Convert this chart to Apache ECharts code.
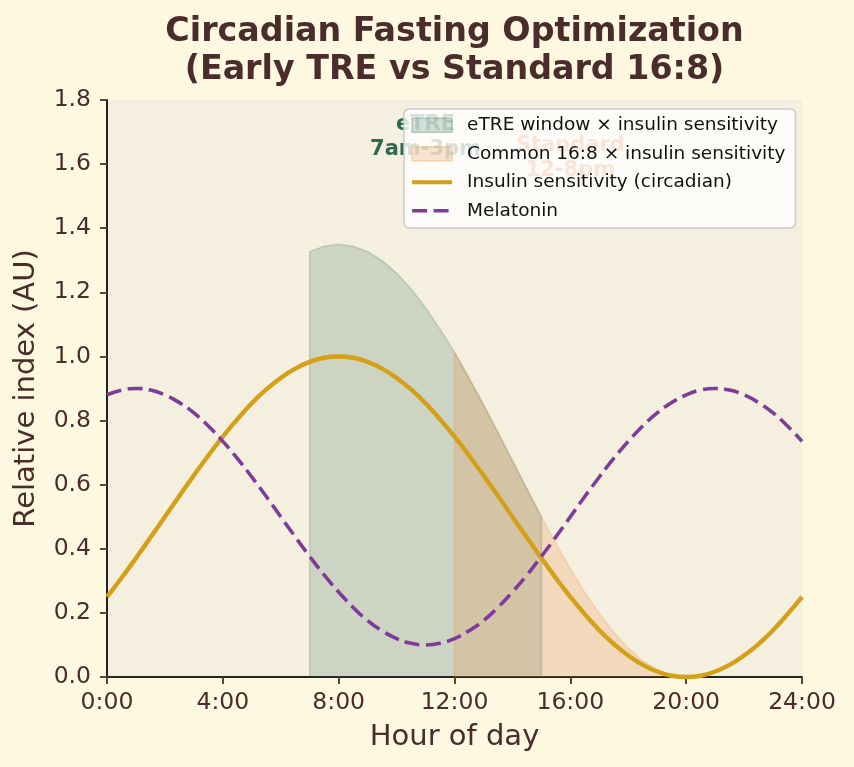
<!DOCTYPE html>
<html>
<head>
<meta charset="utf-8">
<script src="https://cdn.jsdelivr.net/npm/echarts@6/dist/echarts.min.js"></script>
<style>
html,body{margin:0;padding:0;background:#FEF8E1;}
#chart{width:854px;height:767px;}
</style>
</head>
<body>
<div id="chart"></div>
<script>
// ---- data ----
const hours = [0,0.5,1,1.5,2,2.5,3,3.5,4,4.5,5,5.5,6,6.5,7,7.5,8,8.5,9,9.5,10,10.5,11,11.5,12,12.5,13,13.5,14,14.5,15,15.5,16,16.5,17,17.5,18,18.5,19,19.5,20,20.5,21,21.5,22,22.5,23,23.5,24];
const insulin = [0.250,0.309,0.371,0.435,0.500,0.565,0.629,0.691,0.750,0.804,0.854,0.897,0.933,0.962,0.983,0.996,1.000,0.996,0.983,0.962,0.933,0.897,0.854,0.804,0.750,0.691,0.629,0.565,0.500,0.435,0.371,0.309,0.250,0.196,0.146,0.103,0.067,0.038,0.017,0.004,0.000,0.004,0.017,0.038,0.067,0.103,0.146,0.196,0.250];
const melatonin = [0.880,0.895,0.900,0.895,0.880,0.856,0.824,0.783,0.735,0.682,0.624,0.563,0.500,0.437,0.376,0.318,0.265,0.217,0.176,0.144,0.120,0.105,0.100,0.105,0.120,0.144,0.176,0.217,0.265,0.318,0.376,0.437,0.500,0.563,0.624,0.682,0.735,0.783,0.824,0.856,0.880,0.895,0.900,0.895,0.880,0.856,0.824,0.783,0.735];
const etreHours = [7,7,7.5,8,8.5,9,9.5,10,10.5,11,11.5,12,12.5,13,13.5,14,14.5,15,15];
const etreValues = [0,1.327,1.344,1.350,1.344,1.327,1.299,1.260,1.211,1.152,1.086,1.013,0.933,0.850,0.763,0.675,0.587,0.500,0];
const stdHours = [12,12,12.5,13,13.5,14,14.5,15,15.5,16,16.5,17,17.5,18,18.5,19,19.5,20,20];
const stdValues = [0,1.013,0.933,0.850,0.763,0.675,0.587,0.500,0.417,0.338,0.264,0.198,0.139,0.090,0.051,0.023,0.006,0.000,0];
const xTicks = ['0:00','4:00','8:00','12:00','16:00','20:00','24:00'];
const seriesNames = ['eTRE window × insulin sensitivity','Common 16:8 × insulin sensitivity','Insulin sensitivity (circadian)','Melatonin'];
const annotations = [
  {x: 11, y: 1.683, text: 'eTRE\n7am-3pm', color: '#2D6A4F'},
  {x: 16, y: 1.618, text: 'Standard\n12-8pm', color: '#E07B3A'}
];
const pair = (xs, ys) => xs.map((x, i) => [x, ys[i]]);

const GREEN_FILL = 'rgba(45,106,79,0.2)';
const ORANGE_FILL = 'rgba(230,140,60,0.22)';
const GOLD = '#D4A017';
const PURPLE = '#7D3C98';
const DASH = [15, 6.5];

const chart = echarts.init(document.getElementById('chart'), null, {renderer: 'canvas'});
const FONT = 'DejaVu Sans';
const TXT = '#4A2C2A';
chart.setOption({
  backgroundColor: '#FEF8E1',
  animation: false,
  textStyle: {fontFamily: FONT},
  title: {
    text: 'Circadian Fasting Optimization\n(Early TRE vs Standard 16:8)',
    left: 449.5, top: 8, textAlign: 'center',
    textStyle: {fontFamily: FONT, fontWeight: 'bold', fontSize: 33.3, color: TXT, lineHeight: 38}
  },
  grid: {left: 107, right: 52, top: 100, bottom: 90, show: true, backgroundColor: '#F5EFE0', borderWidth: 0},
  legend: {
    left: 404, top: 109, orient: 'vertical',
    backgroundColor: 'rgba(255,255,255,0.8)', borderColor: '#CCCCCC', borderWidth: 1.5, borderRadius: 5,
    padding: [6, 10, 7, 6], itemWidth: 40, itemHeight: 14, itemGap: 8,
    textStyle: {fontFamily: FONT, fontSize: 18.5, color: '#111', lineHeight: 20.5, padding: [0, 0, 0, 10]},
    data: [
      {name: seriesNames[0], icon: 'rect', itemStyle: {color: GREEN_FILL, borderColor: 'rgba(45,106,79,0.3)', borderWidth: 1.5}},
      {name: seriesNames[1], icon: 'rect', itemStyle: {color: ORANGE_FILL, borderColor: 'rgba(230,140,60,0.32)', borderWidth: 1.5}},
      {name: seriesNames[2], itemStyle: {opacity: 0}, lineStyle: {color: GOLD, width: 4.2}},
      {name: seriesNames[3], itemStyle: {opacity: 0}, lineStyle: {color: PURPLE, width: 3.6, type: DASH}}
    ]
  },
  xAxis: {
    type: 'value', min: 0, max: 24, interval: 4,
    name: 'Hour of day', nameLocation: 'middle', nameGap: 46,
    nameTextStyle: {fontFamily: FONT, fontSize: 29, color: TXT},
    axisLine: {show: true, onZero: false, lineStyle: {color: '#222', width: 2}},
    axisTick: {show: true, length: 7, lineStyle: {color: '#5D4037', width: 2}},
    axisLabel: {fontFamily: FONT, fontSize: 23.5, color: TXT, margin: 14,
      formatter: (v) => xTicks[Math.round(v / 4)]},
    splitLine: {show: false}
  },
  yAxis: {
    type: 'value', min: 0, max: 1.8, interval: 0.2,
    name: 'Relative index (AU)', nameLocation: 'middle', nameGap: 66,
    nameTextStyle: {fontFamily: FONT, fontSize: 29, color: TXT},
    axisLine: {show: true, onZero: false, lineStyle: {color: '#222', width: 2}},
    axisTick: {show: true, length: 7, lineStyle: {color: '#5D4037', width: 2}},
    axisLabel: {fontFamily: FONT, fontSize: 23.5, color: TXT, margin: 16,
      formatter: (v) => v.toFixed(1)},
    splitLine: {show: false}
  },
  series: [
    {
      name: seriesNames[0], type: 'line', data: pair(etreHours, etreValues),
      symbol: 'none', showSymbol: false, z: 1,
      lineStyle: {color: GREEN_FILL, width: 1.5},
      itemStyle: {color: GREEN_FILL},
      areaStyle: {color: GREEN_FILL, opacity: 1, origin: 'start'}
    },
    {
      name: seriesNames[1], type: 'line', data: pair(stdHours, stdValues),
      symbol: 'none', showSymbol: false, z: 1,
      lineStyle: {color: ORANGE_FILL, width: 1.5},
      itemStyle: {color: ORANGE_FILL},
      areaStyle: {color: ORANGE_FILL, opacity: 1, origin: 'start'}
    },
    {
      name: 'annotations', type: 'scatter', z: 2, symbolSize: 0, silent: true,
      itemStyle: {opacity: 1},
      data: annotations.map(a => ({value: [a.x, a.y], label: {formatter: a.text, color: a.color}})),
      label: {show: true, opacity: 1, position: 'inside', fontFamily: FONT, fontWeight: 'bold', fontSize: 21, lineHeight: 25, align: 'center', verticalAlign: 'middle'}
    },
    {
      name: seriesNames[2], type: 'line', data: pair(hours, insulin), smooth: true,
      symbol: 'none', showSymbol: false, z: 3,
      lineStyle: {color: GOLD, width: 4.4},
      itemStyle: {color: GOLD}
    },
    {
      name: seriesNames[3], type: 'line', data: pair(hours, melatonin), smooth: true,
      symbol: 'none', showSymbol: false, z: 3,
      lineStyle: {color: PURPLE, width: 3.6, type: DASH},
      itemStyle: {color: PURPLE}
    }
  ]
});
</script>
</body>
</html>
